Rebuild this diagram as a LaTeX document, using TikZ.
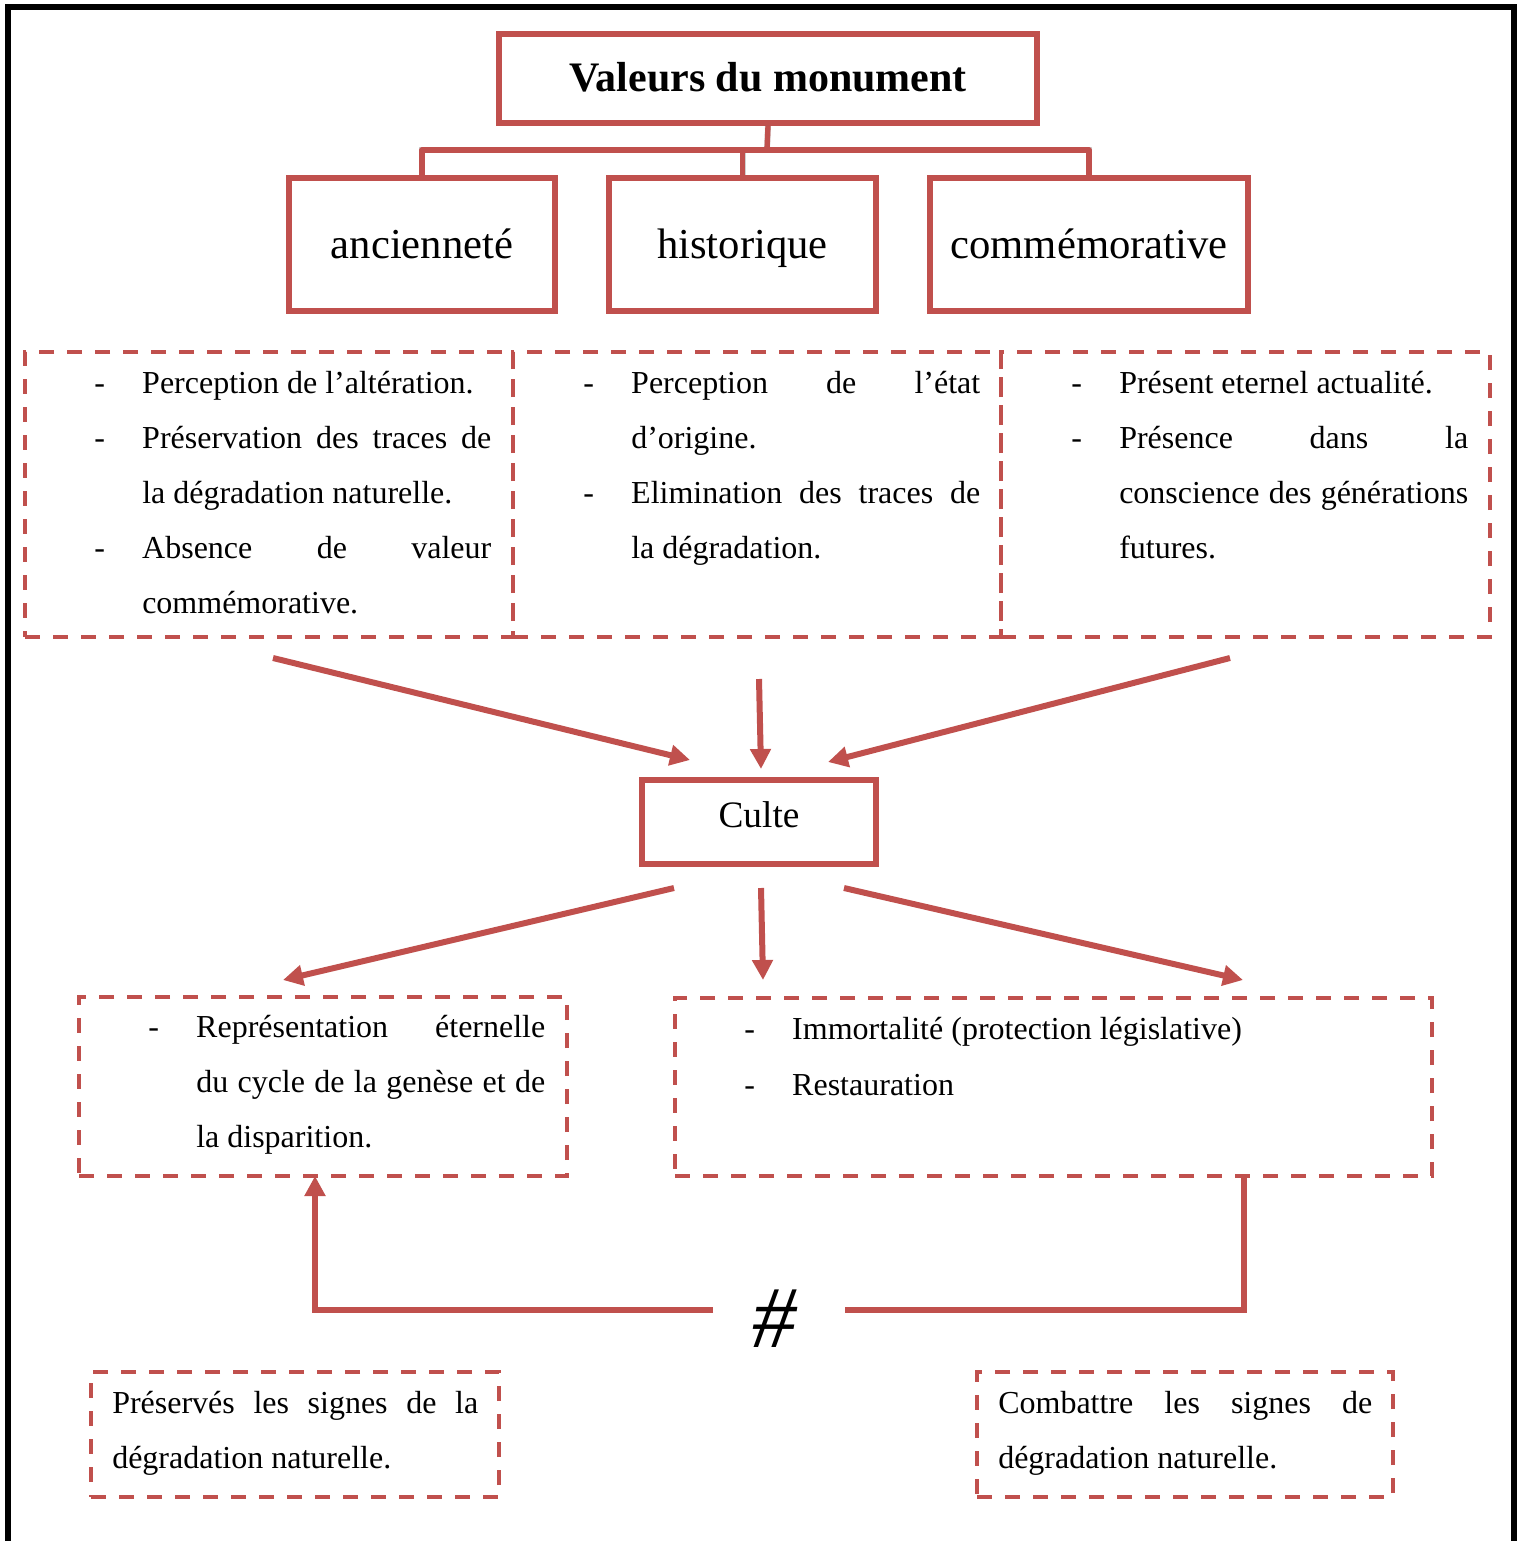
\documentclass[tikz,border=0pt]{standalone}
\usepackage{fontspec}
\setmainfont{Liberation Serif}
\usetikzlibrary{arrows.meta,fit}
\definecolor{redc}{HTML}{C0504D}
\newcommand\dashcol{\makebox[36pt][l]{-}}
\newcommand\indcol{\hspace*{36pt}}
\newcommand\jst[2]{\makebox[#1][s]{#2}}
\begin{document}
\begin{tikzpicture}[x=0.75pt,y=-0.75pt,
  sbox/.style={draw=redc, line width=4.1pt, inner sep=0pt},
  dbox/.style={draw=redc, line width=3.2pt, dash pattern=on 11.25pt off 9.75pt, inner sep=0pt},
  conn/.style={draw=redc, line width=4pt, line join=round},
  conn2/.style={draw=redc, line width=4.5pt},
  arr/.style={draw=redc, line width=4.5pt, -{Triangle[length=15pt,width=15pt]}},
  body/.style={inner sep=0pt, anchor=base west, font=\fontsize{24}{41.25}\selectfont},
  lbl/.style={inner sep=0pt, anchor=base}
]
\useasboundingbox (0,0) rectangle (1517,1541);
% frame
\draw[line width=4.9pt, black] (8,1545) -- (8,7) -- (1514,7) -- (1514,1545);

% top boxes
\node[sbox, fit={(499,34) (1037,123)}] (title) {};
\node[lbl, font=\bfseries\fontsize{31.5}{36}\selectfont] (titletxt) at (768,92) {Valeurs du monument};
\node[sbox, fit={(289,178) (555,311)}] (c1) {};
\node[sbox, fit={(609,178) (876,311)}] (c2) {};
\node[sbox, fit={(930,178) (1248,311)}] (c3) {};
\node[lbl, font=\fontsize{32}{36}\selectfont] (c1txt) at (c1.center |- 0,258) {ancienneté};
\node[lbl, font=\fontsize{32}{36}\selectfont] (c2txt) at (c2.center |- 0,258) {historique};
\node[lbl, font=\fontsize{32}{36}\selectfont] (c3txt) at (c3.center |- 0,258) {commémorative};

% tree connectors
\coordinate (jn) at (767,150);
\begin{scope}[shift={(2,3)}, opacity=0.3]
\draw[line width=4.5pt, black!60] (title.south) -- (jn);
\draw[line width=4.5pt, black!60] (c1.north) |- (jn) -| (c3.north);
\draw[line width=4.5pt, black!60] (c2.north) -- (c2.north |- jn);
\end{scope}
\draw[conn] (title.south) -- (jn);
\draw[conn] (c1.north) |- (jn) -| (c3.north);
\draw[conn] (c2.north) -- (c2.north |- jn);

% row 1 dashed boxes
\node[dbox, fit={(25,352) (513,637)}] (b1) {};
\node[dbox, fit={(513,352) (1001,637)}] (b2) {};
\node[dbox, fit={(1001,352) (1490,637)}] (b3) {};
\node[body] (t1) at (94,393) {\parbox[t]{300pt}{%
\dashcol Perception de l’altération.\\
\dashcol\jst{261.75pt}{Préservation des traces de}\\
\indcol la dégradation naturelle.\\
\dashcol\jst{261.75pt}{Absence de valeur}\\
\indcol commémorative.}};
\node[body] (t2) at (583,393) {\parbox[t]{300pt}{%
\dashcol\jst{261.75pt}{Perception de l’état}\\
\indcol d’origine.\\
\dashcol\jst{261.75pt}{Elimination des traces de}\\
\indcol la dégradation.}};
\node[body] (t3) at (1071,393) {\parbox[t]{300pt}{%
\dashcol Présent eternel actualité.\\
\dashcol\jst{261.75pt}{Présence dans la}\\
\indcol\jst{261.75pt}{conscience des générations}\\
\indcol futures.}};

% Culte
\node[sbox, fit={(642,780) (876,864)}] (culte) {};
\node[lbl, font=\fontsize{28}{32}\selectfont] (cultetxt) at (759,827) {Culte};

\coordinate (a1s) at (273,658); \coordinate (a1e) at (690,760);
\coordinate (a2s) at (759,679); \coordinate (a2e) at (761,769);
\coordinate (a3s) at (1230,658); \coordinate (a3e) at (828,762);
\draw[arr] (a1s) -- (a1e);
\draw[arr] (a2s) -- (a2e);
\draw[arr] (a3s) -- (a3e);

\coordinate (d1s) at (674,888); \coordinate (d1e) at (283,980);
\coordinate (d2s) at (761,888); \coordinate (d2e) at (763,980);
\coordinate (d3s) at (844,888); \coordinate (d3e) at (1243,980);
\draw[arr] (d1s) -- (d1e);
\draw[arr] (d2s) -- (d2e);
\draw[arr] (d3s) -- (d3e);

% middle dashed boxes
\node[dbox, fit={(79,997) (567,1176)}] (bl) {};
\node[dbox, fit={(675,998) (1432,1176)}] (br) {};
\node[body] (t4) at (148,1037) {\parbox[t]{300pt}{%
\dashcol\jst{261.75pt}{Représentation éternelle}\\
\indcol\jst{261.75pt}{du cycle de la genèse et de}\\
\indcol la disparition.}};
\node[body, font=\fontsize{24}{42}\selectfont] (t5) at (744,1039) {\parbox[t]{500pt}{%
\dashcol Immortalité (protection législative)\\
\dashcol Restauration}};

% hash connectors
\node[lbl, font=\itshape\fontsize{66}{70}\selectfont] (hash) at (774,1347) {\#};
\coordinate (brs) at (1244,1176);
\coordinate (hR) at (845,1310);
\coordinate (hL) at (713,1310);
\coordinate (bls) at (315,1176);
\draw[conn2] (brs) |- (hR);
\draw[arr] (hL) -| (bls);

% bottom dashed boxes
\node[dbox, fit={(91,1372) (499,1497)}] (ll) {};
\node[dbox, fit={(977,1372) (1393,1497)}] (lr) {};
\node[body] (t6) at (112,1413) {\parbox[t]{290pt}{%
\jst{274.5pt}{Préservés les signes de la}\\
dégradation naturelle.}};
\node[body] (t7) at (998,1413) {\parbox[t]{290pt}{%
\jst{280.5pt}{Combattre les signes de}\\
dégradation naturelle.}};
\end{tikzpicture}
\end{document}
